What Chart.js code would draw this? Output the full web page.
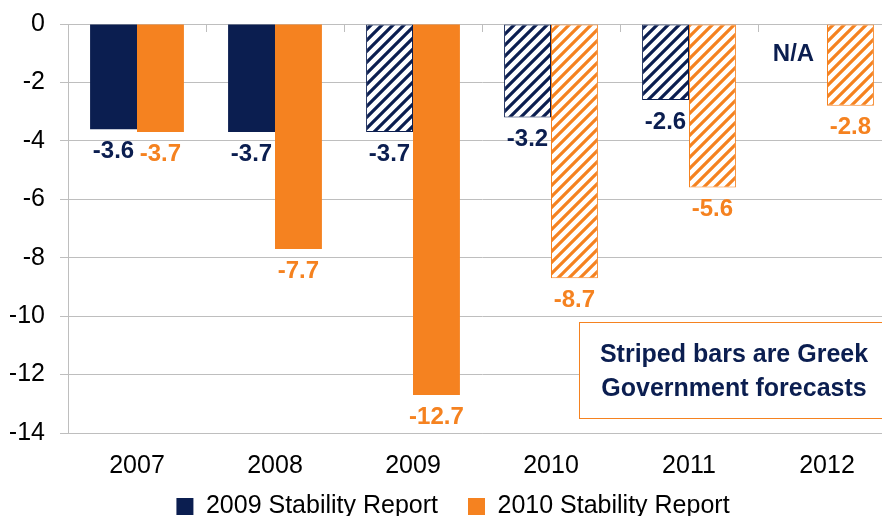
<!DOCTYPE html>
<html>
<head>
<meta charset="utf-8">
<script src="https://cdn.jsdelivr.net/npm/chart.js@4.4.1/dist/chart.umd.min.js"></script>
<style>
  html, body { margin: 0; padding: 0; background: #fff; overflow: hidden; }
  #wrap { width: 896px; height: 516px; }
</style>
</head>
<body>
<div id="wrap"><canvas id="chart" width="896" height="516"></canvas></div>
<script>
// datos del grafico (deficit griego, % del PIB)
const years = ['2007', '2008', '2009', '2010', '2011', '2012'];
const report2009 = [-3.6, -3.7, -3.7, -3.2, -2.6, null];
const report2010 = [-3.7, -7.7, -12.7, -8.7, -5.6, -2.8];
// barras rayadas = previsiones del gobierno griego
const striped2009 = [false, false, true, true, true, false];
const striped2010 = [false, false, false, true, true, true];
const yTicks = [0, -2, -4, -6, -8, -10, -12, -14];

const NAVY = '#0B1E50';
const ORANGE = '#F58220';
const GRID = '#BEBEBE';
const FONT = '"Liberation Sans", Arial, sans-serif';

const ctx = document.getElementById('chart').getContext('2d');

// patron de rayas diagonales
function rayas(color) {
  const c = document.createElement('canvas');
  c.width = 11; c.height = 11;
  const g = c.getContext('2d');
  g.fillStyle = '#fff';
  g.fillRect(0, 0, 11, 11);
  g.strokeStyle = color;
  g.lineWidth = 3.2;
  g.beginPath();
  g.moveTo(-3, 14); g.lineTo(14, -3);
  g.moveTo(-3, 3); g.lineTo(3, -3);
  g.moveTo(8, 14); g.lineTo(14, 8);
  g.stroke();
  return ctx.createPattern(c, 'repeat');
}
const navyStripes = rayas(NAVY);
const orangeStripes = rayas(ORANGE);

// etiquetas de valor debajo de cada barra, N/A y caja de nota
const extras = {
  id: 'extras',
  afterLayout(chart) {
    // subimos un poco la leyenda para que quede como en el original
    const lg = chart.legend;
    lg.top -= 14;
    lg.bottom -= 14;
  },
  afterDatasetsDraw(chart) {
    const c = chart.ctx;
    const xs = chart.scales.x;
    const area = chart.chartArea;
    c.save();
    // marcas entre categorias en el eje superior
    c.strokeStyle = GRID;
    c.lineWidth = 1;
    for (let i = 0; i < years.length - 1; i++) {
      const x = Math.round((xs.getPixelForTick(i) + xs.getPixelForTick(i + 1)) / 2) + 0.5;
      c.beginPath();
      c.moveTo(x, area.top);
      c.lineTo(x, area.top + 8);
      c.stroke();
    }
    c.font = 'bold 24px ' + FONT;
    c.textAlign = 'center';
    c.textBaseline = 'middle';
    chart.data.datasets.forEach((ds, di) => {
      const meta = chart.getDatasetMeta(di);
      c.fillStyle = ds.labelColor;
      meta.data.forEach((bar, i) => {
        const v = ds.data[i];
        if (v === null) {
          c.fillText('N/A', bar.x - 10, area.top + 30);
          return;
        }
        c.fillText(v.toFixed(1), bar.x, bar.y + 22);
      });
    });
    // caja de nota
    c.fillStyle = '#fff';
    c.fillRect(579.5, 322.5, 330, 96);
    c.strokeStyle = ORANGE;
    c.lineWidth = 1;
    c.strokeRect(579.5, 322.5, 330, 96);
    c.fillStyle = NAVY;
    c.font = 'bold 25px ' + FONT;
    c.fillText('Striped bars are Greek', 734, 355);
    c.fillText('Government forecasts', 734, 389);
    c.restore();
  }
};

new Chart(ctx, {
  type: 'bar',
  data: {
    labels: years,
    datasets: [{
      label: '2009 Stability Report',
      data: report2009,
      labelColor: NAVY,
      backgroundColor: (c) => striped2009[c.dataIndex] ? navyStripes : NAVY,
      borderColor: NAVY,
      borderWidth: (c) => striped2009[c.dataIndex] ? 1 : 0,
      borderSkipped: false
    }, {
      label: '2010 Stability Report',
      data: report2010,
      labelColor: ORANGE,
      backgroundColor: (c) => striped2010[c.dataIndex] ? orangeStripes : ORANGE,
      borderColor: ORANGE,
      borderWidth: (c) => striped2010[c.dataIndex] ? 1 : 0,
      borderSkipped: false
    }]
  },
  options: {
    responsive: false,
    animation: false,
    layout: { padding: { top: 24, left: 10, right: 0, bottom: -27 } },
    categoryPercentage: 0.68,
    barPercentage: 1,
    scales: {
      x: {
        grid: { display: false },
        border: { color: GRID },
        ticks: { color: '#000', font: { family: FONT, size: 25 }, padding: 10 },
        afterFit(axis) { axis.height = 45; }
      },
      y: {
        min: -14,
        max: 0,
        afterBuildTicks(axis) { axis.ticks = yTicks.map(v => ({ value: v })); },
        afterFit(axis) { axis.width = 58; axis.paddingTop = 0; axis.paddingBottom = 0; },
        grid: { color: GRID, tickLength: 8 },
        border: { color: GRID },
        ticks: { color: '#000', font: { family: FONT, size: 25 }, padding: 15 }
      }
    },
    plugins: {
      legend: {
        position: 'bottom',
        labels: {
          color: '#000',
          font: { family: FONT, size: 25 },
          boxWidth: 17,
          boxHeight: 17,
          padding: 30
        }
      },
      tooltip: { enabled: false }
    }
  },
  plugins: [extras]
});
</script>
</body>
</html>
